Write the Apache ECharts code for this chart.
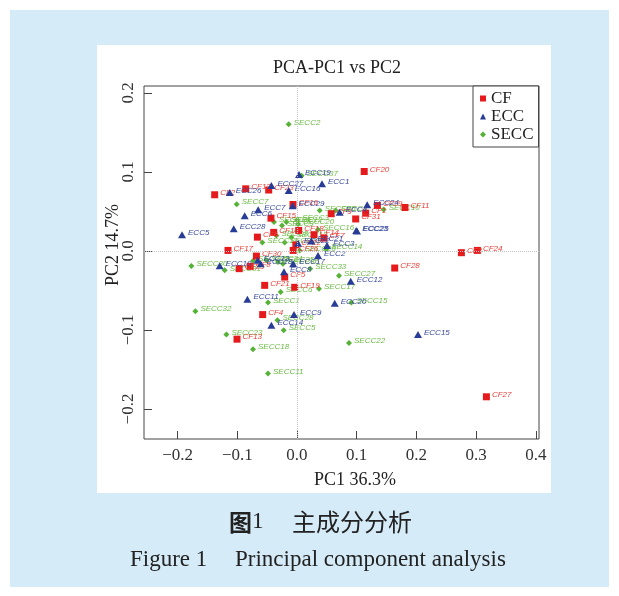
<!DOCTYPE html>
<html>
<head>
<meta charset="utf-8">
<script src="https://cdn.jsdelivr.net/npm/echarts@6/dist/echarts.min.js"></script>
<style>
  html, body { margin: 0; padding: 0; background: #fff; }
  #chart { width: 619px; height: 596px; }
</style>
</head>
<body>
<div id="chart"></div>
<script>
// PCA scores
const cfNames = ['CF1','CF2','CF3','CF4','CF5','CF6','CF7','CF8','CF9','CF10','CF11','CF12','CF13','CF14','CF15','CF16',
  'CF17','CF18','CF19','CF20','CF21','CF22','CF23','CF24','CF25','CF26','CF27','CF28','CF29','CF30','CF31'];
const cfPC1 = [0.1151,-0.1379,0.2754,-0.0575,-0.0206,-0.0663,0.0452,-0.0784,0.0573,-0.0390,0.1809,-0.0859,-0.1005,0.0285,-0.0436,-0.0067,
  -0.1156,0.0028,-0.0039,0.1126,-0.0541,-0.0020,-0.0474,0.3022,-0.0968,-0.0064,0.3173,0.1637,0.1347,-0.0680,0.0983];
const cfPC2 = [0.0477,0.0710,-0.0023,-0.0806,-0.0331,0.0174,0.0162,-0.0196,0.0470,0.0234,0.0549,0.0785,-0.1117,0.0205,0.0414,0.0587,
  0.0006,0.0259,-0.0461,0.1004,-0.0436,0.0076,0.0770,0.0006,-0.0225,0.0006,-0.1846,-0.0217,0.0574,-0.0066,0.0404];

const eccNames = ['ECC1','ECC2','ECC3','ECC4','ECC5','ECC6','ECC7','ECC8','ECC9','ECC10','ECC11','ECC12','ECC13','ECC14','ECC15',
  'ECC16','ECC17','ECC18','ECC19','ECC20','ECC21','ECC22','ECC23','ECC24','ECC25','ECC26','ECC27','ECC28','ECC29'];
const eccPC1 = [0.0419,0.0352,0.0503,0.0715,-0.1926,-0.0876,-0.0650,-0.0218,-0.0050,-0.1295,-0.0831,0.0900,-0.0658,-0.0429,0.2027,
  -0.0139,-0.0064,-0.0608,0.0034,0.0632,0.0241,0.0017,0.0992,0.1176,0.1005,-0.1127,-0.0429,-0.1060,-0.0072];
const eccPC2 = [0.0848,-0.0057,0.0069,0.0490,0.0205,0.0444,0.0520,-0.0265,-0.0806,-0.0189,-0.0612,-0.0385,-0.0120,-0.0941,-0.1058,
  0.0764,-0.0164,-0.0162,0.0966,-0.0663,0.0126,0.0098,0.0259,0.0583,0.0253,0.0739,0.0827,0.0280,0.0571];

const seccNames = ['SECC1','SECC2','SECC3','SECC4','SECC5','SECC6','SECC7','SECC8','SECC9','SECC10','SECC11','SECC12','SECC13',
  'SECC14','SECC15','SECC16','SECC17','SECC18','SECC19','SECC20','SECC21','SECC22','SECC23','SECC24','SECC25','SECC26','SECC27',
  'SECC28','SECC29','SECC30','SECC31','SECC32','SECC33','SECC34','SECC35','SECC36','SECC37'];
const seccPC1 = [-0.0486,-0.0139,0.0003,0.0648,-0.0223,-0.0273,-0.1010,-0.0345,-0.0251,0.1452,-0.0486,-0.0178,-0.0094,
  0.0489,0.0911,0.0352,0.0369,-0.0737,-0.0580,0.0017,-0.0206,0.0871,-0.1183,-0.0385,0.0380,0.0045,0.0704,
  -0.0328,-0.0734,-0.1769,-0.1211,-0.1702,0.0221,-0.0513,-0.0318,-0.0235,0.0079];
const seccPC2 = [-0.0654,0.1601,0.0391,0.0511,-0.1004,-0.0520,0.0591,0.0196,0.0322,0.0524,-0.1551,0.0364,0.0174,
  0.0025,-0.0654,0.0271,-0.0480,-0.1244,0.0107,0.0341,0.0107,-0.1164,-0.1058,0.0364,0.0511,0.0006,-0.0316,
  -0.0878,-0.0126,-0.0192,-0.0246,-0.0764,-0.0227,-0.0120,-0.0141,-0.0162,0.0949];

const xTicks = [-0.2, -0.1, 0.0, 0.1, 0.2, 0.3, 0.4];
const yTicks = [-0.2, -0.1, 0.0, 0.1, 0.2];

const serif = 'Liberation Serif';

function points(names, xs, ys) {
  return names.map((n, i) => [xs[i], ys[i], n]);
}

function tickLabel(ticks) {
  return v => {
    const hit = ticks.find(t => Math.abs(t - v) < 1e-6);
    if (hit === undefined) return '';
    return hit.toFixed(1).replace('-', '\u2212');
  };
}

function pointLabel(color) {
  return {
    show: true,
    position: 'right',
    distance: 2,
    offset: [0, -2],
    formatter: p => p.value[2],
    fontFamily: 'Liberation Sans',
    fontStyle: 'italic',
    fontSize: 8,
    color: color
  };
}

const chart = echarts.init(document.getElementById('chart'), null, { renderer: 'canvas' });

const option = {
  animation: false,
  backgroundColor: '#fff',
  graphic: [
    { type: 'rect', z: -10, shape: { x: 10, y: 10, width: 599, height: 577 }, style: { fill: '#d5ebf8' } },
    { type: 'rect', z: -9, shape: { x: 97, y: 45, width: 454, height: 448 }, style: { fill: '#fff' } },
    { type: 'text', x: 337, y: 68, style: { text: 'PCA-PC1 vs PC2', font: '18px "Liberation Serif"', fill: '#222', align: 'center', verticalAlign: 'middle' } },
    { type: 'text', x: 355, y: 480, style: { text: 'PC1 36.3%', font: '18px "Liberation Serif"', fill: '#222', align: 'center', verticalAlign: 'middle' } },
    { type: 'text', x: 113, y: 245, rotation: Math.PI / 2, style: { text: 'PC2 14.7%', font: '18px "Liberation Serif"', fill: '#222', align: 'center', verticalAlign: 'middle' } },
    { type: 'text', x: 229, y: 522, style: {
        text: '{t|图}{n|1}', verticalAlign: 'middle',
        rich: { t: { fontFamily: 'Noto Sans CJK SC', fontWeight: 'bold', fontSize: 23, fill: '#222' },
                n: { fontFamily: serif, fontSize: 23, fill: '#222' } } } },
    { type: 'text', x: 292, y: 522, style: { text: '主成分分析', font: '24px "Noto Sans CJK SC"', fill: '#222', verticalAlign: 'middle' } },
    { type: 'text', x: 130, y: 560, style: { text: 'Figure 1', font: '23px "Liberation Serif"', fill: '#222', verticalAlign: 'middle' } },
    { type: 'text', x: 235, y: 560, style: { text: 'Principal component analysis', font: '23px "Liberation Serif"', fill: '#222', verticalAlign: 'middle' } }
  ],
  grid: {
    left: 144, right: 80, top: 86, bottom: 157,
    show: true, borderColor: '#444', borderWidth: 1, backgroundColor: 'transparent'
  },
  legend: {
    orient: 'vertical',
    left: 473, top: 86,
    padding: [4, 5, 4, 7],
    itemGap: 1,
    itemWidth: 6, itemHeight: 6,
    borderColor: '#444', borderWidth: 1,
    backgroundColor: '#fff',
    textStyle: { fontFamily: serif, fontSize: 17, color: '#222' },
    data: [
      { name: 'CF', icon: 'rect' },
      { name: 'ECC', icon: 'triangle' },
      { name: 'SECC', icon: 'diamond' }
    ]
  },
  xAxis: {
    type: 'value',
    min: -0.2563, max: 0.4054,
    splitLine: { show: false },
    axisLine: { show: false, onZero: false },
    axisTick: { inside: true, length: 8, lineStyle: { color: '#444' } },
    axisLabel: { showMinLabel: false, showMaxLabel: false, formatter: tickLabel(xTicks),
      fontFamily: serif, fontSize: 17, color: '#333', margin: 8 }
  },
  yAxis: {
    type: 'value',
    min: -0.238, max: 0.2086,
    splitLine: { show: false },
    axisLine: { show: false, onZero: false },
    axisTick: { inside: true, length: 8, lineStyle: { color: '#444' } },
    axisLabel: { showMinLabel: false, showMaxLabel: false, formatter: tickLabel(yTicks), rotate: 90,
      fontFamily: serif, fontSize: 17, color: '#333', margin: 7 }
  },
  series: [
    {
      name: 'CF', type: 'scatter', symbol: 'rect', symbolSize: 7,
      data: points(cfNames, cfPC1, cfPC2),
      itemStyle: { color: '#e51a1c', opacity: 1 },
      label: pointLabel('#e8413a'),
      markLine: {
        silent: true, symbol: ['none', 'none'], label: { show: false },
        lineStyle: { type: 'dotted', color: '#c4c4c4', width: 1 },
        data: [{ xAxis: 0 }, { yAxis: 0 }]
      },
      z: 3
    },
    {
      name: 'ECC', type: 'scatter', symbol: 'triangle', symbolSize: [8, 7],
      data: points(eccNames, eccPC1, eccPC2),
      itemStyle: { color: '#283c96', opacity: 1 },
      label: pointLabel('#3a4a9e'),
      z: 4
    },
    {
      name: 'SECC', type: 'scatter', symbol: 'diamond', symbolSize: [6, 6],
      data: points(seccNames, seccPC1, seccPC2),
      itemStyle: { color: '#55b236', opacity: 1 },
      label: pointLabel('#6cbc45'),
      z: 2
    }
  ]
};

chart.setOption(option);
</script>
</body>
</html>
